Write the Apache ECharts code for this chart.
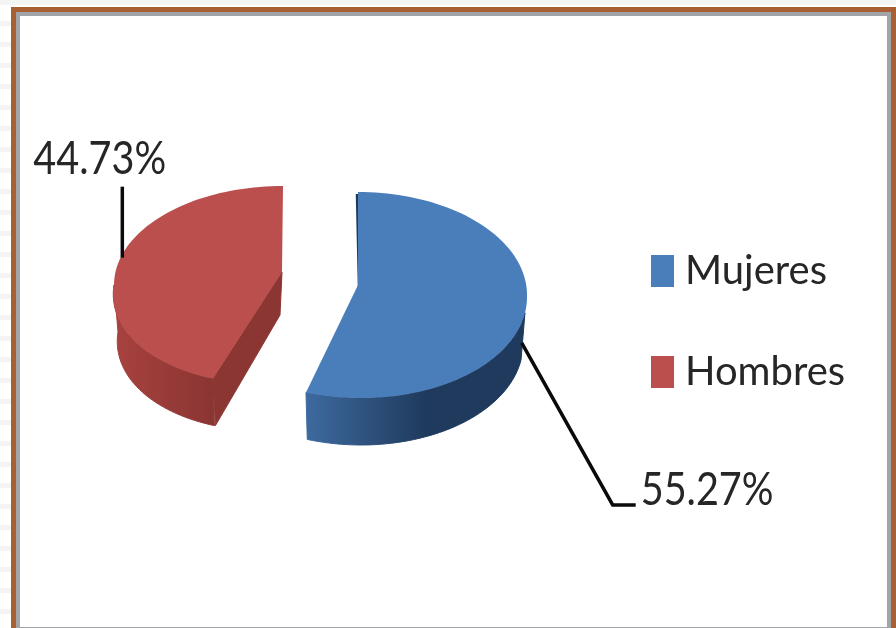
<!DOCTYPE html>
<html>
<head>
<meta charset="utf-8">
<style>
html,body{margin:0;padding:0;width:896px;height:628px;overflow:hidden;
background:repeating-linear-gradient(180deg,#f4f4f4 0,#f4f4f4 5px,#ffffff 5px,#ffffff 21px);}
#c{width:896px;height:628px;}
</style>
<script src="https://cdn.jsdelivr.net/npm/echarts@6/dist/echarts.min.js"></script>
</head>
<body>
<div id="c"></div>
<script>
const categories = ['Mujeres', 'Hombres'];
const values = [55.27, 44.73];
const valueLabels = ['55.27%', '44.73%'];
const topColors = ['#4a7ebb', '#bb4f4d'];
const wallStops = [['#3d6a9f', '#1f3a5c'], ['#a8423f', '#8a3532']];
const cutColors = ['#1f3a5c', '#8c3634'];

const FONT = 'Lato,"Liberation Sans",sans-serif';
const DEPTH = 47;
const layouts = [
  {cx:358, cy:295, rx:169, ry:103, apexY:285, lean:-0.03, wallStart:100,
   anchor:[-3,31], leader:[[91,162],[114,162]], text:[119,147]},
  {cx:283, cy:285, rx:169, ry:99, apexY:272, lean:0.16, wallStart:90,
   anchor:[6,-11], leader:[[0,-71]], text:[-89,-99]}
];
const total = values.reduce((a,b)=>a+b,0);

function point(l, deg, drop, shrink){
  const t = deg*Math.PI/180;
  const y0 = l.cy - l.ry*Math.cos(t);
  const x0 = l.cx + (l.rx-shrink)*Math.sin(t);
  const x = x0 - l.lean*Math.max(0, y0-l.cy);
  return [x, y0+drop];
}
function arc(l, from, to, drop, shrink){
  const pts = [];
  const n = Math.max(2, Math.ceil(Math.abs(to-from)/2));
  for(let i=0;i<=n;i++) pts.push(point(l, from+(to-from)*i/n, drop, shrink));
  return pts;
}
function makeRender(idx){
  return function(params, api){
    const val = api.value(0);
    const before = values.slice(0,idx).reduce((a,b)=>a+b,0);
    const from = before/total*360;
    const to = (before+val)/total*360;
    const mid = (from+to)/2;
    const l = layouts[idx];
    const kids = [];
    const apex = [l.cx - (idx===1?1:0), l.apexY];
    // straight cut wall
    if(idx===1){
      const e = point(l,from,0,0), eb = point(l,from,DEPTH,4);
      kids.push({type:'polygon',shape:{points:[apex,[apex[0]-2,apex[1]+43],[eb[0]+1,eb[1]],e]},
        style:{fill:cutColors[idx],stroke:cutColors[idx],lineWidth:1}});
    } else {
      const s = point(l,from,0,0);
      kids.push({type:'line',shape:{x1:s[0]-1,y1:s[1]+2,x2:apex[0]+1,y2:apex[1]+2},style:{stroke:cutColors[idx],lineWidth:2.5}});
    }
    // curved outer wall, front part only
    const wf = Math.max(from,l.wallStart), wt = Math.min(to,270);
    if(wt>wf){
      const top = arc(l,wf,wt,0,0);
      const bot = arc(l,wf,wt,DEPTH,4).reverse();
      const st = wallStops[idx];
      const grad = {
        type:'linear',x:0,y:0,x2:1,y2:0,
        colorStops: idx===0
          ? [{offset:0,color:st[0]},{offset:0.55,color:st[1]},{offset:1,color:st[1]}]
          : [{offset:0,color:st[0]},{offset:1,color:st[1]}]
      };
      kids.push({type:'polygon',shape:{points:top.concat(bot)},style:{fill:grad,stroke:grad,lineWidth:1}});
    }
    // top face
    kids.push({type:'polygon',shape:{points:[apex].concat(arc(l,from,to,0,0))},style:{fill:topColors[idx]}});
    // leader line and label
    const p = point({...l,lean:0},mid,0,0);
    const a = [p[0]+l.anchor[0],p[1]+l.anchor[1]];
    const pts = [a].concat(l.leader.map(o=>[a[0]+o[0],a[1]+o[1]]));
    kids.push({type:'polyline',shape:{points:pts},style:{stroke:'#0a0a0a',lineWidth:3.5,fill:'none'}});
    kids.push({type:'text',x:a[0]+l.text[0],y:a[1]+l.text[1],scaleX:0.86,
      style:{text:valueLabels[idx],x:0,y:0,font:'46px '+FONT,fill:'#262626',textAlign:'left',textVerticalAlign:'middle'}});
    return {type:'group',children:kids};
  };
}

const chart = echarts.init(document.getElementById('c'),null,{renderer:'canvas'});
chart.setOption({
  animation:false,
  backgroundColor:'transparent',
  graphic:[
    {type:'rect',z:-10,shape:{x:11,y:7,width:900,height:700},style:{fill:'#a85f33'}},
    {type:'rect',z:-9,shape:{x:16,y:12,width:875,height:700},style:{fill:'#a2a5a8'}},
    {type:'rect',z:-8,shape:{x:20,y:16,width:867,height:611},style:{fill:'#ffffff'}}
  ],
  legend:{
    orient:'vertical',left:651,top:251,padding:0,itemWidth:23,itemHeight:32,itemGap:61,
    data:categories,selectedMode:false,icon:'rect',
    textStyle:{fontFamily:FONT,fontSize:40,color:'#262626',padding:[0,0,0,6]}
  },
  series:categories.map((name,i)=>({
    type:'custom',name:name,coordinateSystem:'none',clip:false,
    itemStyle:{color:topColors[i]},
    renderItem:makeRender(i),
    data:[[values[i]]]
  }))
});
</script>
</body>
</html>
